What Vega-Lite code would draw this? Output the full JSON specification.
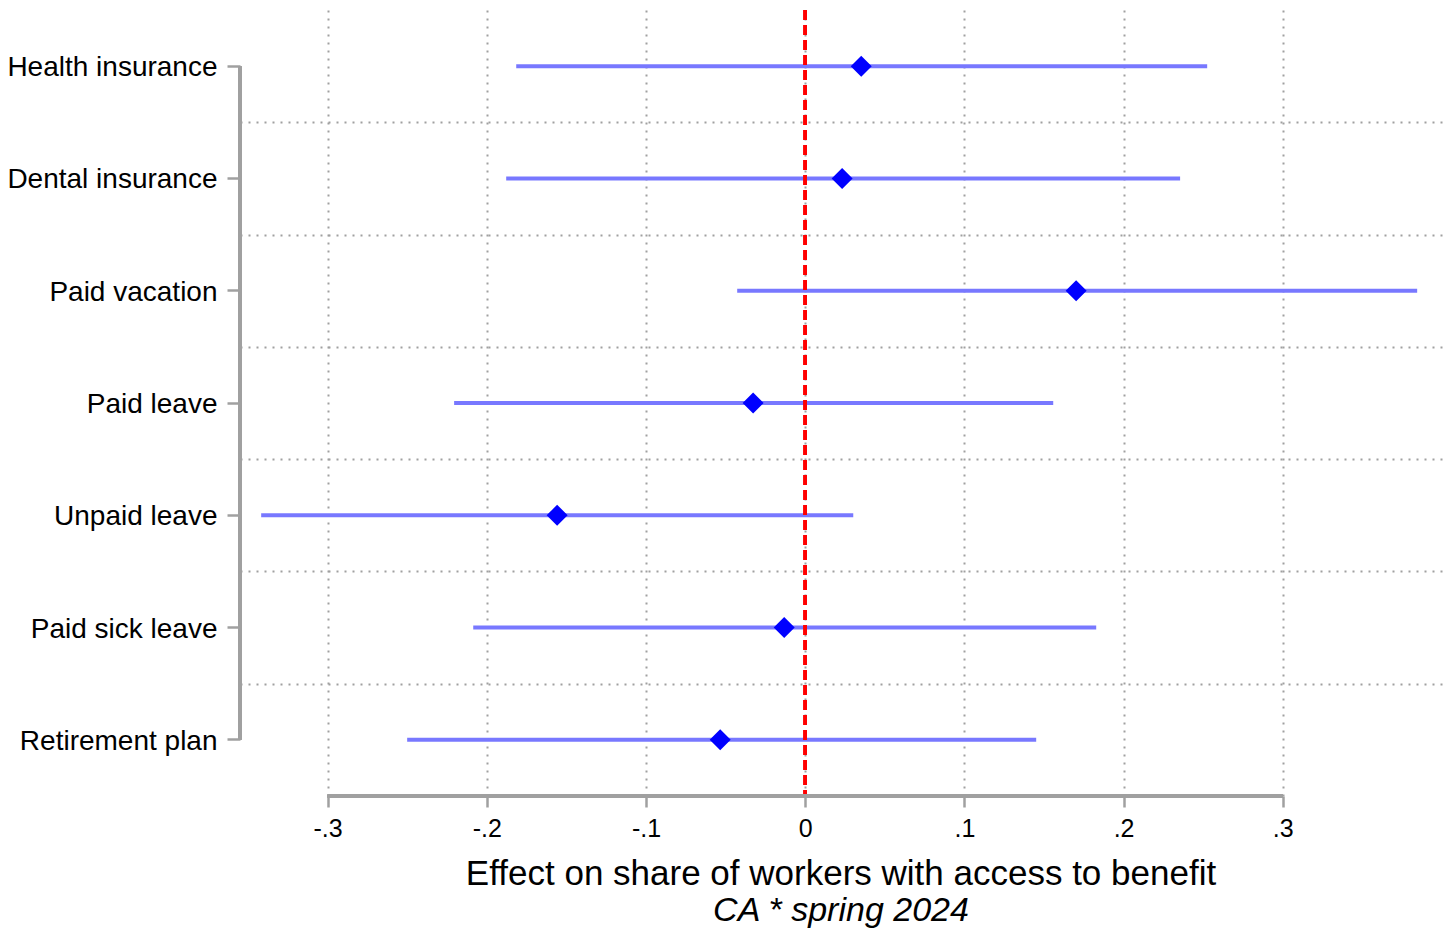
{
  "$schema": "https://vega.github.io/schema/vega-lite/v6.json",
  "autosize": {"type": "none"},
  "padding": {"left": 240, "top": 10, "right": 3, "bottom": 132},
  "width": 1202,
  "height": 786,
  "background": "white",
  "data": {
    "values": [
      {"label": "Health insurance", "est": 0.0352, "lo": -0.1815, "hi": 0.2525},
      {"label": "Dental insurance", "est": 0.0232, "lo": -0.1878, "hi": 0.2355},
      {"label": "Paid vacation", "est": 0.1702, "lo": -0.0427, "hi": 0.3844},
      {"label": "Paid leave", "est": -0.0327, "lo": -0.2205, "hi": 0.1558},
      {"label": "Unpaid leave", "est": -0.1558, "lo": -0.3417, "hi": 0.0302},
      {"label": "Paid sick leave", "est": -0.0132, "lo": -0.2085, "hi": 0.1828},
      {"label": "Retirement plan", "est": -0.0534, "lo": -0.25, "hi": 0.1451}
    ]
  },
  "title": {
    "text": "Effect on share of workers with access to benefit",
    "subtitle": "CA * spring 2024",
    "orient": "bottom",
    "anchor": "middle",
    "frame": "group",
    "font": "Liberation Sans, Arial, sans-serif",
    "subtitleFont": "Liberation Sans, Arial, sans-serif",
    "fontSize": 35,
    "subtitleFontSize": 34,
    "fontWeight": "normal",
    "subtitleFontStyle": "italic",
    "color": "black",
    "subtitleColor": "black",
    "offset": 16,
    "subtitlePadding": 2
  },
  "config": {
    "view": {"stroke": null},
    "font": "Liberation Sans, Arial, sans-serif"
  },
  "resolve": {"axis": {"y": "independent"}},
  "layer": [
    {
      "mark": {"type": "rule", "color": "#7878ff", "strokeWidth": 4},
      "encoding": {
        "y": {
          "field": "label",
          "type": "nominal",
          "scale": {
            "type": "band",
            "paddingInner": 0,
            "paddingOuter": 0,
            "domain": ["Health insurance", "Dental insurance", "Paid vacation", "Paid leave", "Unpaid leave", "Paid sick leave", "Retirement plan"]
          },
          "axis": {
            "orient": "left",
            "title": null,
            "domain": false,
            "grid": false,
            "ticks": true,
            "tickSize": 13,
            "tickWidth": 2.5,
            "tickColor": "#a0a0a0",
            "labelFontSize": 28,
            "labelColor": "black",
            "labelPadding": 10,
            "labelOffset": 2,
            "labelLimit": 400,
            "labelFont": "Liberation Sans, Arial, sans-serif"
          }
        },
        "x": {
          "field": "lo",
          "type": "quantitative",
          "title": null,
          "scale": {"domain": [-0.355, 0.4], "nice": false, "zero": false},
          "axis": {
            "title": null,
            "values": [-0.3, -0.2, -0.1, 0, 0.1, 0.2, 0.3],
            "labelExpr": "datum.value == 0 ? '0' : (datum.value < 0 ? '-' : '') + '.' + round(abs(datum.value) * 10)",
            "domain": false,
            "ticks": true,
            "tickSize": 11,
            "tickWidth": 2.5,
            "tickColor": "#a0a0a0",
            "labelFontSize": 25,
            "labelColor": "black",
            "labelPadding": 9,
            "labelFont": "Liberation Sans, Arial, sans-serif",
            "grid": true,
            "gridColor": "#a0a0a0",
            "gridWidth": 2,
            "gridDash": [2, 6]
          }
        },
        "x2": {"field": "hi"}
      }
    },
    {
      "mark": {"type": "point", "shape": "diamond", "filled": true, "size": 441, "color": "#0000ff", "opacity": 1},
      "encoding": {
        "y": {
          "field": "label",
          "type": "nominal",
          "axis": {
            "orient": "right",
            "title": null,
            "domain": false,
            "ticks": false,
            "labels": false,
            "grid": true,
            "tickBand": "extent",
            "gridColor": "#a0a0a0",
            "gridWidth": 2,
            "gridDash": [2, 6],
            "gridOpacity": {
              "condition": {"test": "datum.value === 'Retirement plan' || datum.index < 0 || !datum.value", "value": 0},
              "value": 1
            }
          }
        },
        "x": {"field": "est", "type": "quantitative", "title": null}
      }
    },
    {
      "mark": {"type": "rule", "color": "#ff0000", "strokeWidth": 3, "strokeDash": [10, 5]},
      "encoding": {"x": {"datum": 0, "type": "quantitative", "title": null}}
    },
    {
      "mark": {"type": "rule", "color": "#a0a0a0", "strokeWidth": 3},
      "encoding": {
        "x": {"datum": -0.3, "type": "quantitative", "title": null},
        "x2": {"datum": 0.3},
        "y": {"value": "height"}
      }
    },
    {
      "mark": {"type": "rule", "color": "#a0a0a0", "strokeWidth": 3},
      "encoding": {
        "x": {"value": 0},
        "y": {"datum": "Health insurance", "type": "nominal", "axis": null},
        "y2": {"datum": "Retirement plan"}
      }
    }
  ]
}
